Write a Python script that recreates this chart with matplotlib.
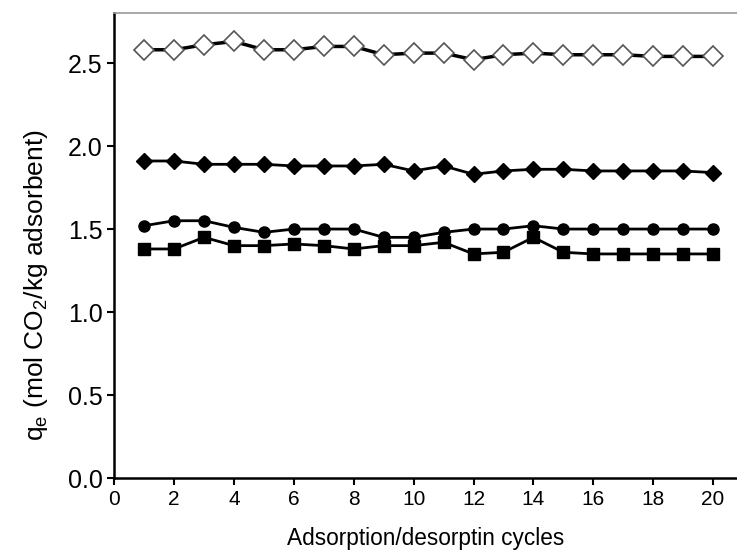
import matplotlib
matplotlib.use("Agg")
import matplotlib.pyplot as plt
import numpy as np

plt.rcParams['font.family'] = ['Liberation Sans', 'DejaVu Sans']
plt.rcParams['mathtext.fontset'] = 'custom'
plt.rcParams['mathtext.rm'] = 'Liberation Sans'

cycles = np.arange(1, 21)

# CO2 uptake per cycle for the four adsorbents
open_diamond = [2.58, 2.58, 2.61, 2.63, 2.58, 2.58, 2.60, 2.60, 2.55, 2.56,
                2.56, 2.52, 2.55, 2.56, 2.55, 2.55, 2.55, 2.54, 2.54, 2.54]
filled_diamond = [1.91, 1.91, 1.89, 1.89, 1.89, 1.88, 1.88, 1.88, 1.89, 1.85,
                  1.88, 1.83, 1.85, 1.86, 1.86, 1.85, 1.85, 1.85, 1.85, 1.84]
circles = [1.52, 1.55, 1.55, 1.51, 1.48, 1.50, 1.50, 1.50, 1.45, 1.45,
           1.48, 1.50, 1.50, 1.52, 1.50, 1.50, 1.50, 1.50, 1.50, 1.50]
squares = [1.38, 1.38, 1.45, 1.40, 1.40, 1.41, 1.40, 1.38, 1.40, 1.40,
           1.42, 1.35, 1.36, 1.45, 1.36, 1.35, 1.35, 1.35, 1.35, 1.35]

xticks = np.arange(0, 21, 2)
yticks = [0.0, 0.5, 1.0, 1.5, 2.0, 2.5]

fig = plt.figure(figsize=(7.37, 5.52), dpi=100)
ax = fig.add_axes([0.155, 0.134, 0.845, 0.842])

ax.plot(cycles, squares, color='black', lw=2, marker='s', ms=8, mfc='black', mec='black')
ax.plot(cycles, circles, color='black', lw=2, marker='o', ms=8, mfc='black', mec='black')
ax.plot(cycles, filled_diamond, color='black', lw=2, marker='D', ms=8.5, mfc='black', mec='black')
ax.plot(cycles, open_diamond, color='black', lw=2.5, marker='D', ms=10, mfc='white',
        mec='#555555', mew=1.2)

ax.set_xlim(0, 20.8)
ax.set_ylim(0, 2.8)
ax.set_xticks(xticks)
ax.set_yticks(yticks)
ax.set_yticklabels(['%.1f' % v for v in yticks], fontsize=18)
ax.set_xticklabels([str(v) for v in xticks], fontsize=15)
ax.tick_params(direction='out', length=5, width=1.5)

ax.spines['right'].set_visible(False)
ax.spines['top'].set_color('#999999')
ax.spines['top'].set_linewidth(1.2)
ax.spines['left'].set_linewidth(1.8)
ax.spines['bottom'].set_linewidth(1.8)

ax.set_xlabel('Adsorption/desorptin cycles', fontsize=16.3, labelpad=13)
ax.set_ylabel(r'q$_\mathregular{e}$ (mol CO$_\mathregular{2}$/kg adsorbent)', fontsize=19)
ax.yaxis.set_label_coords(-0.103, 0.415)

fig.savefig('out.png', dpi=100)
